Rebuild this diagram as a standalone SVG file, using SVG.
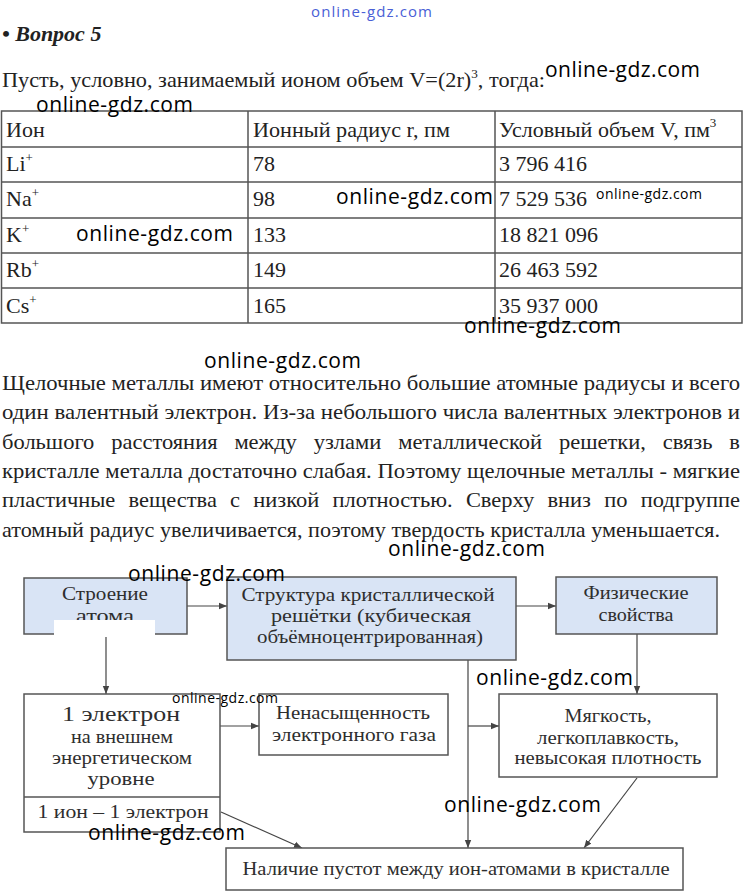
<svg xmlns="http://www.w3.org/2000/svg" width="743" height="893" viewBox="0 0 743 893">
<defs>
<style>
.t{font-family:"Liberation Serif","Times New Roman",serif;font-size:22px;fill:#222}
.b{font-family:"Liberation Serif","Times New Roman",serif;font-size:19px;fill:#2e2e2e;text-anchor:middle}
.wm{font-family:"Open Sans","DejaVu Sans",sans-serif;font-size:21px;fill:#000}
.wms{font-family:"Open Sans","DejaVu Sans",sans-serif;font-size:14px;fill:#000}
.grid{stroke:#555;stroke-width:1.5;fill:none}
.box{fill:#fff;stroke:#555;stroke-width:1.5}
.bbox{fill:#d9e4f5;stroke:#555;stroke-width:1.5}
.c{stroke:#444;stroke-width:1.2;fill:none}
</style>
<marker id="ah" viewBox="0 0 10 10" refX="10" refY="5" markerWidth="8" markerHeight="8" orient="auto" markerUnits="userSpaceOnUse">
<path d="M0,1 L10,5 L0,9 z" fill="#444"/>
</marker>
</defs>
<rect width="743" height="893" fill="#fff"/>

<text x="311" y="17" textLength="121" style="font-family:'Open Sans','DejaVu Sans',sans-serif;font-size:15px;fill:#4a5fd6">online-gdz.com</text>
<text x="2" y="41" class="t" style="font-weight:bold;font-style:italic">• Вопрос 5</text>
<text x="2" y="87" class="t" textLength="543" lengthAdjust="spacingAndGlyphs">Пусть, условно, занимаемый ионом объем V=(2r)<tspan font-size="13" dy="-9">3</tspan><tspan dy="9">, тогда:</tspan></text>

<g id="table">
<rect x="1.5" y="111" width="740.5" height="212" class="grid"/>
<line x1="248" y1="111" x2="248" y2="323" class="grid"/>
<line x1="495" y1="111" x2="495" y2="323" class="grid"/>
<line x1="1.5" y1="147" x2="742" y2="147" class="grid"/>
<line x1="1.5" y1="182" x2="742" y2="182" class="grid"/>
<line x1="1.5" y1="218" x2="742" y2="218" class="grid"/>
<line x1="1.5" y1="253" x2="742" y2="253" class="grid"/>
<line x1="1.5" y1="288" x2="742" y2="288" class="grid"/>
<text x="6" y="137" class="t">Ион</text>
<text x="253" y="137" class="t" textLength="197" lengthAdjust="spacingAndGlyphs">Ионный радиус r, пм</text>
<text x="499" y="137" class="t">Условный объем V, пм<tspan font-size="13" dy="-10">3</tspan></text>
<text x="6" y="171" class="t">Li<tspan font-size="13" dy="-9">+</tspan></text>
<text x="253" y="171" class="t">78</text>
<text x="499" y="171" class="t">3 796 416</text>
<text x="6" y="206" class="t">Na<tspan font-size="13" dy="-9">+</tspan></text>
<text x="253" y="206" class="t">98</text>
<text x="499" y="206" class="t">7 529 536</text>
<text x="6" y="242" class="t">K<tspan font-size="13" dy="-9">+</tspan></text>
<text x="253" y="242" class="t">133</text>
<text x="499" y="242" class="t">18 821 096</text>
<text x="6" y="277" class="t">Rb<tspan font-size="13" dy="-9">+</tspan></text>
<text x="253" y="277" class="t">149</text>
<text x="499" y="277" class="t">26 463 592</text>
<text x="6" y="313" class="t">Cs<tspan font-size="13" dy="-9">+</tspan></text>
<text x="253" y="313" class="t">165</text>
<text x="499" y="313" class="t">35 937 000</text>
</g>

<g id="paragraph">
<text x="2" y="390" class="t" textLength="738" lengthAdjust="spacingAndGlyphs">Щелочные металлы имеют относительно большие атомные радиусы и всего</text>
<text x="2" y="419" class="t" textLength="738" lengthAdjust="spacingAndGlyphs">один валентный электрон. Из-за небольшого числа валентных электронов и</text>
<text x="2" y="449" class="t" style="word-spacing:11px" textLength="738" lengthAdjust="spacingAndGlyphs">большого расстояния между узлами металлической решетки, связь в</text>
<text x="2" y="478" class="t" textLength="738" lengthAdjust="spacingAndGlyphs">кристалле металла достаточно слабая. Поэтому щелочные металлы - мягкие</text>
<text x="2" y="507" class="t" style="word-spacing:7.5px" textLength="738" lengthAdjust="spacingAndGlyphs">пластичные вещества с низкой плотностью. Сверху вниз по подгруппе</text>
<text x="2" y="537" class="t" textLength="718" lengthAdjust="spacingAndGlyphs">атомный радиус увеличивается, поэтому твердость кристалла уменьшается.</text>
</g>

<g id="connectors">
<line x1="187" y1="606" x2="227" y2="606" class="c" marker-end="url(#ah)"/>
<line x1="516" y1="606" x2="556" y2="606" class="c" marker-end="url(#ah)"/>
<line x1="106" y1="634" x2="106" y2="694" class="c" marker-end="url(#ah)"/>
<line x1="637" y1="634" x2="637" y2="694" class="c" marker-end="url(#ah)"/>
<line x1="220" y1="726" x2="259" y2="726" class="c" marker-end="url(#ah)"/>
<line x1="468" y1="660" x2="468" y2="848" class="c" marker-end="url(#ah)"/>
<line x1="468" y1="726" x2="499" y2="726" class="c" marker-end="url(#ah)"/>
<line x1="637" y1="778" x2="584" y2="848" class="c" marker-end="url(#ah)"/>
<line x1="221" y1="812" x2="302" y2="848" class="c" marker-end="url(#ah)"/>
</g>

<g id="n-stroenie">
<rect x="24" y="578" width="163" height="56" class="bbox"/>
<text x="105" y="600" class="b" textLength="86" lengthAdjust="spacingAndGlyphs">Строение</text>
<text x="105" y="622" class="b" textLength="58" lengthAdjust="spacingAndGlyphs">атома</text>
<rect x="54" y="620" width="101" height="17" fill="#fff"/>
</g>
<g id="n-struktura">
<rect x="227" y="577" width="289" height="83" class="bbox"/>
<text x="368" y="601" class="b" textLength="253" lengthAdjust="spacingAndGlyphs">Структура кристаллической</text>
<text x="371" y="622" class="b" textLength="200" lengthAdjust="spacingAndGlyphs">решётки (кубическая</text>
<text x="370" y="643" class="b" textLength="226" lengthAdjust="spacingAndGlyphs">объёмноцентрированная)</text>
</g>
<g id="n-fiz">
<rect x="556" y="577" width="161" height="57" class="bbox"/>
<text x="636" y="599" class="b" textLength="105" lengthAdjust="spacingAndGlyphs">Физические</text>
<text x="636" y="621" class="b" textLength="75" lengthAdjust="spacingAndGlyphs">свойства</text>
</g>
<g id="n-elektron">
<rect x="24" y="694" width="196" height="138" class="box"/>
<line x1="24" y1="797" x2="220" y2="797" class="grid"/>
<text x="121" y="721" class="b" textLength="118" lengthAdjust="spacingAndGlyphs" style="font-size:21px">1 электрон</text>
<text x="122" y="743" class="b" textLength="102" lengthAdjust="spacingAndGlyphs">на внешнем</text>
<text x="122" y="764" class="b" textLength="140" lengthAdjust="spacingAndGlyphs">энергетическом</text>
<text x="121" y="785" class="b" textLength="67" lengthAdjust="spacingAndGlyphs">уровне</text>
<text x="123" y="818" class="b" textLength="171" lengthAdjust="spacingAndGlyphs">1 ион – 1 электрон</text>
</g>
<g id="n-nenas">
<rect x="259" y="694" width="189" height="61" class="box"/>
<text x="353" y="719" class="b" textLength="154" lengthAdjust="spacingAndGlyphs">Ненасыщенность</text>
<text x="354" y="741" class="b" textLength="164" lengthAdjust="spacingAndGlyphs">электронного газа</text>
</g>
<g id="n-myag">
<rect x="499" y="694" width="218" height="83" class="box"/>
<text x="608" y="722" class="b" textLength="87" lengthAdjust="spacingAndGlyphs">Мягкость,</text>
<text x="608" y="744" class="b" textLength="142" lengthAdjust="spacingAndGlyphs">легкоплавкость,</text>
<text x="608" y="764" class="b" textLength="187" lengthAdjust="spacingAndGlyphs">невысокая плотность</text>
</g>
<g id="n-nalichie">
<rect x="226" y="848" width="457" height="42" class="box"/>
<text x="456" y="875" class="b" textLength="427" lengthAdjust="spacingAndGlyphs">Наличие пустот между ион-атомами в кристалле</text>
</g>

<g id="watermarks">
<text x="545" y="77" class="wm" textLength="155">online-gdz.com</text>
<text x="36" y="112" class="wm" textLength="157">online-gdz.com</text>
<text x="336" y="204" class="wm" textLength="157">online-gdz.com</text>
<text x="596" y="199" class="wms" textLength="106">online-gdz.com</text>
<text x="76" y="241" class="wm" textLength="157">online-gdz.com</text>
<text x="464" y="333" class="wm" textLength="157">online-gdz.com</text>
<text x="204" y="368" class="wm" textLength="157">online-gdz.com</text>
<text x="388" y="556" class="wm" textLength="157">online-gdz.com</text>
<text x="128" y="581" class="wm" textLength="157">online-gdz.com</text>
<text x="172" y="703" class="wms" textLength="106">online-gdz.com</text>
<text x="476" y="685" class="wm" textLength="157">online-gdz.com</text>
<text x="444" y="812" class="wm" textLength="157">online-gdz.com</text>
<text x="88" y="840" class="wm" textLength="157">online-gdz.com</text>
</g>
</svg>
